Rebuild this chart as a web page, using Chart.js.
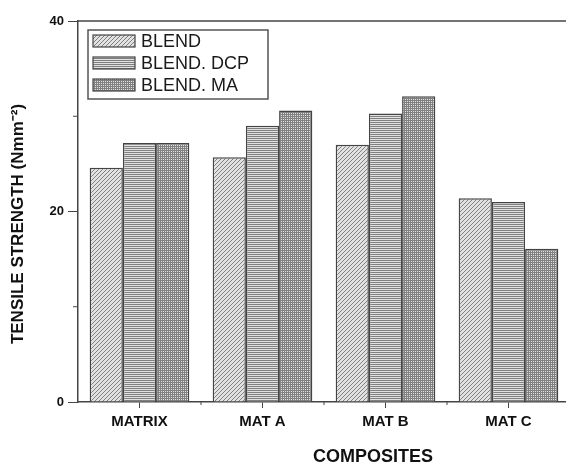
<!DOCTYPE html>
<html>
<head>
<meta charset="utf-8">
<script src="https://cdn.jsdelivr.net/npm/chart.js@4.4.1/dist/chart.umd.min.js"></script>
<style>
    html, body { margin: 0; padding: 0; background: #fff; overflow: hidden; }
    #wrap { width: 566px; height: 466px; overflow: hidden; }
    #wrap canvas { display: block; }
</style>
</head>
<body>
<div id="wrap"><canvas id="myChart" width="580" height="466"></canvas></div>
<script>
// data
const categories = ['MATRIX', 'MAT A', 'MAT B', 'MAT C'];
const seriesNames = ['BLEND', 'BLEND. DCP', 'BLEND. MA'];
const blend = [24.6, 25.7, 27.0, 21.4];
const blendDcp = [27.2, 29.0, 30.3, 21.0];
const blendMa = [27.2, 30.6, 32.1, 16.1];
const yTickLabels = [0, 20, 40];
const yMinorTicks = [10, 30];

const FONT = "'Liberation Sans', Arial, sans-serif";

// hatch patterns, like the printed figure
function makePattern(kind) {
    const c = document.createElement('canvas');
    c.width = 4; c.height = 4;
    const g = c.getContext('2d');
    g.fillStyle = '#e2e2e2';
    g.fillRect(0, 0, 4, 4);
    g.strokeStyle = '#808080';
    g.lineWidth = 1;
    g.beginPath();
    if (kind === 'diag') {
        g.moveTo(0, 4); g.lineTo(4, 0);
        g.moveTo(-1, 1); g.lineTo(1, -1);
        g.moveTo(3, 5); g.lineTo(5, 3);
    } else if (kind === 'horiz') {
        g.moveTo(0, 0.5); g.lineTo(4, 0.5);
        g.moveTo(0, 2.5); g.lineTo(4, 2.5);
    } else {
        g.moveTo(0, 0.5); g.lineTo(4, 0.5);
        g.moveTo(0, 2.5); g.lineTo(4, 2.5);
        g.moveTo(0.5, 0); g.lineTo(0.5, 4);
        g.moveTo(2.5, 0); g.lineTo(2.5, 4);
    }
    g.stroke();
    return g.createPattern(c, 'repeat');
}

const ctx = document.getElementById('myChart').getContext('2d');
const fills = [makePattern('diag'), makePattern('horiz'), makePattern('grid')];

// legend box, frame, minor ticks and axis titles drawn by hand
const extras = {
    id: 'extras',
    afterDraw(chart) {
        const c = chart.ctx;
        const area = chart.chartArea;
        const x = chart.scales.x;
        const y = chart.scales.y;
        c.save();
        // top frame line
        c.strokeStyle = '#444';
        c.lineWidth = 1.5;
        c.beginPath();
        c.moveTo(area.left, area.top);
        c.lineTo(chart.width, area.top);
        c.stroke();
        // minor ticks
        c.lineWidth = 1;
        for (let i = 0; i < categories.length; i++) {
            const px = x.getPixelForValue(i + 0.5);
            c.beginPath();
            c.moveTo(px, area.bottom);
            c.lineTo(px, area.bottom + 3);
            c.stroke();
        }
        yMinorTicks.forEach(v => {
            const py = y.getPixelForValue(v);
            c.beginPath();
            c.moveTo(area.left - 5, py);
            c.lineTo(area.left, py);
            c.stroke();
        });
        // legend
        const lx = 88, ly = 30, lw = 180, lh = 69;
        c.fillStyle = '#fff';
        c.fillRect(lx, ly, lw, lh);
        c.strokeStyle = '#555';
        c.lineWidth = 1.5;
        c.strokeRect(lx, ly, lw, lh);
        c.font = '18px ' + FONT;
        c.textBaseline = 'middle';
        for (let i = 0; i < seriesNames.length; i++) {
            const cy = ly + 11 + i * 22;
            c.fillStyle = fills[i];
            c.fillRect(93, cy - 6, 42, 12);
            c.strokeStyle = '#444';
            c.lineWidth = 1.2;
            c.strokeRect(93, cy - 6, 42, 12);
            c.fillStyle = '#1a1a1a';
            c.fillText(seriesNames[i], 141, cy + 1);
        }
        // x axis title
        c.font = 'bold 18px ' + FONT;
        c.textAlign = 'center';
        c.fillStyle = '#111';
        c.fillText('COMPOSITES', 373, 457);
        // y axis title
        c.translate(18, 224);
        c.rotate(-Math.PI / 2);
        c.font = 'bold 17px ' + FONT;
        c.fillText('TENSILE STRENGTH (Nmm\u207B\u00B2)', 0, 0);
        c.restore();
    }
};

new Chart(ctx, {
    type: 'bar',
    data: {
        labels: categories,
        datasets: [
            { label: seriesNames[0], data: blend, backgroundColor: fills[0] },
            { label: seriesNames[1], data: blendDcp, backgroundColor: fills[1] },
            { label: seriesNames[2], data: blendMa, backgroundColor: fills[2] }
        ].map(d => Object.assign(d, {
            borderColor: '#444',
            borderWidth: 1.5,
            categoryPercentage: 0.81,
            barPercentage: 1.0
        }))
    },
    options: {
        responsive: false,
        animation: false,
        layout: { padding: { left: 0, top: 21, right: 10, bottom: 0 } },
        plugins: {
            legend: { display: false },
            tooltip: { enabled: false }
        },
        scales: {
            x: {
                offset: true,
                grid: {
                    offset: false,
                    drawOnChartArea: false,
                    drawTicks: true,
                    tickLength: 6,
                    color: '#444'
                },
                border: { color: '#444', width: 1.5 },
                ticks: {
                    color: '#111',
                    font: { family: FONT, size: 15, weight: 'bold' },
                    padding: 5,
                    maxRotation: 0
                },
                afterFit(scale) { scale.height = 64; }
            },
            y: {
                min: 0,
                max: 40,
                grid: {
                    drawOnChartArea: false,
                    drawTicks: true,
                    tickLength: 10,
                    color: ctx => yTickLabels.includes(ctx.tick && ctx.tick.value) ? '#444' : 'rgba(0,0,0,0)'
                },
                border: { color: '#444', width: 1.5 },
                ticks: {
                    stepSize: 10,
                    color: '#111',
                    font: { family: FONT, size: 13, weight: 'bold' },
                    padding: 4,
                    callback: v => yTickLabels.includes(v) ? v : ''
                },
                afterFit(scale) { scale.width = 78; }
            }
        }
    },
    plugins: [extras]
});
</script>
</body>
</html>
